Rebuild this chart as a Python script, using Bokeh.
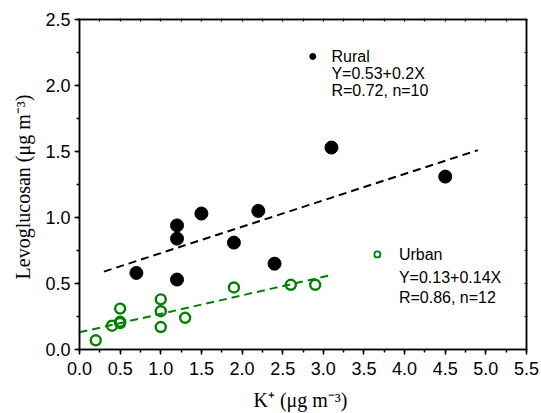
import numpy as np
from bokeh.plotting import figure
from bokeh.models import LinearAxis, SingleIntervalTicker, FixedTicker, Label, ColumnDataSource, PrintfTickFormatter
from bokeh.embed import file_html
from bokeh.resources import INLINE

# Rural data (K+ vs Levoglucosan)
rural_x = [0.7, 1.2, 1.2, 1.2, 1.5, 1.9, 2.2, 2.4, 3.1, 4.5]
rural_y = [0.58, 0.94, 0.84, 0.53, 1.03, 0.81, 1.05, 0.65, 1.53, 1.31]
# Urban data
urban_x = [0.2, 0.4, 0.5, 0.5, 0.5, 1.0, 1.0, 1.0, 1.3, 1.9, 2.6, 2.9]
urban_y = [0.07, 0.18, 0.31, 0.21, 0.20, 0.38, 0.29, 0.17, 0.24, 0.47, 0.49, 0.49]
# Fits
rural_fit = (0.53, 0.2)
urban_fit = (0.13, 0.14)
rural_fit_x = [0.3, 4.9]
urban_fit_x = [0.0, 3.1]

GREEN = "#008000"

p = figure(width=541, height=413, x_range=(0, 5.5), y_range=(0, 2.5),
           output_backend="svg", toolbar_location=None,
           min_border_left=79, min_border_right=15, min_border_top=19, min_border_bottom=64)
p.frame_width = 447
p.frame_height = 330
p.xgrid.visible = False
p.ygrid.visible = False
p.outline_line_color = "black"
p.outline_line_width = 1.5
p.background_fill_color = "white"
p.border_fill_color = "white"

tick_font = "Liberation Sans"
for ax in (p.xaxis[0], p.yaxis[0]):
    ax.axis_line_width = 1.5
    ax.major_tick_line_width = 1.5
    ax.minor_tick_line_width = 1.5
    ax.major_tick_out = 5
    ax.major_tick_in = 0
    ax.minor_tick_out = 3
    ax.minor_tick_in = 0
    ax.major_label_text_font = tick_font
    ax.major_label_text_font_size = "18px"
    ax.major_label_text_color = "black"
    ax.axis_label_text_font = "Liberation Serif"
    ax.axis_label_text_font_size = "20px"
    ax.axis_label_text_font_style = "normal"
    ax.axis_label_text_color = "black"
    ax.formatter = PrintfTickFormatter(format="%.1f")

p.xaxis[0].ticker = SingleIntervalTicker(interval=0.5, num_minor_ticks=2)
p.yaxis[0].ticker = SingleIntervalTicker(interval=0.5, num_minor_ticks=2)
p.xaxis[0].major_label_standoff = 7
p.yaxis[0].major_label_standoff = 4
p.xaxis[0].axis_label = "K⁺  (μg m⁻³)"
p.yaxis[0].axis_label = "Levoglucosan  (μg m⁻³)"
p.xaxis[0].axis_label_standoff = 11
p.yaxis[0].axis_label_standoff = 8

quarter = [i * 0.25 for i in range(0, 23)]
for loc in ("above", "right"):
    ax = LinearAxis(ticker=FixedTicker(ticks=[], minor_ticks=quarter),
                    major_label_standoff=0,
                    major_tick_in=0, major_tick_out=0, minor_tick_in=2, minor_tick_out=1,
                    axis_line_width=1.5, minor_tick_line_width=1.2)
    p.add_layout(ax, loc)

# fit lines
rsrc = ColumnDataSource(dict(x=rural_fit_x, y=[rural_fit[0] + rural_fit[1] * v for v in rural_fit_x]))
usrc = ColumnDataSource(dict(x=urban_fit_x, y=[urban_fit[0] + urban_fit[1] * v for v in urban_fit_x]))
p.line("x", "y", source=rsrc, line_color="black", line_width=2, line_dash="8 5")
p.line("x", "y", source=usrc, line_color=GREEN, line_width=2, line_dash="8 5")

# data
p.scatter(rural_x, rural_y, size=13, marker="circle", fill_color="black", line_color="black")
p.scatter(urban_x, urban_y, size=10, marker="circle", fill_color=None, line_color=GREEN, line_width=2.4)

# legend annotations
p.scatter([2.87], [2.22], size=6, marker="circle", fill_color="black", line_color="black")
p.scatter([3.665], [0.72], size=6, marker="circle", fill_color=None, line_color=GREEN, line_width=1.8)

lab_font = "Liberation Sans"
for txt, x, y in [("Rural", 3.10, 2.22), ("Y=0.53+0.2X", 3.10, 2.09), ("R=0.72, n=10", 3.10, 1.965),
                  ("Urban", 3.93, 0.72), ("Y=0.13+0.14X", 3.93, 0.545), ("R=0.86, n=12", 3.93, 0.394)]:
    p.add_layout(Label(x=x, y=y, text=txt, text_font=lab_font, text_font_size="16px",
                       text_baseline="middle", text_align="left", text_color="black"))

open("out.html", "w").write(file_html(p, INLINE))
